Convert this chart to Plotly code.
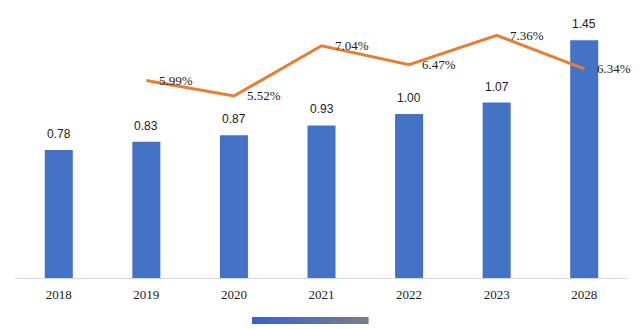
import plotly.graph_objects as go

years = ["2018", "2019", "2020", "2021", "2022", "2023", "2028"]
market_size = [0.78, 0.83, 0.87, 0.93, 1.00, 1.07, 1.45]
growth_pct = [None, 5.99, 5.52, 7.04, 6.47, 7.36, 6.34]

bar_labels = [f"{v:.2f}" for v in market_size]
line_labels = ["" if v is None else f"{v:.2f}%" for v in growth_pct]

fig = go.Figure()
fig.add_trace(go.Bar(
    x=years, y=market_size, marker_color="#4472C4", marker_line_width=0,
    yaxis="y", showlegend=False, hoverinfo="skip",
))
fig.add_trace(go.Scatter(
    x=years, y=growth_pct, mode="lines", line=dict(color="#E67E35", width=3),
    yaxis="y2", showlegend=False, hoverinfo="skip", connectgaps=False,
))

annotations = []
for i, (v, t) in enumerate(zip(market_size, bar_labels)):
    annotations.append(dict(
        x=i, y=v, xref="x", yref="y", text=t, showarrow=False,
        yanchor="middle", yshift=16,
        font=dict(family="Liberation Sans Narrow, Liberation Sans, Arial, sans-serif", size=12, color="#222222"),
    ))
for i, (v, t) in enumerate(zip(growth_pct, line_labels)):
    if v is None:
        continue
    annotations.append(dict(
        x=i, y=v, xref="x", yref="y2", text=t, showarrow=False,
        xanchor="left", yanchor="middle", xshift=11, yshift=0,
        font=dict(family="Liberation Serif, Times New Roman, serif", size=13, color="#222222"),
    ))

# gradient legend swatch at the bottom
shapes = []
x0p, x1p = (252 - 15) / 613, (368 - 15) / 613
y0p, y1p = (278 - 324) / 268, (278 - 317) / 268
n = 24
c0 = (58, 98, 204)
c1 = (118, 126, 138)
for i in range(n):
    f = i / (n - 1)
    col = tuple(int(round(a + (b - a) * f)) for a, b in zip(c0, c1))
    xa = x0p + (x1p - x0p) * i / n
    xb = x0p + (x1p - x0p) * (i + 1) / n + 0.001
    shapes.append(dict(
        type="rect", xref="paper", yref="paper", x0=xa, x1=xb, y0=y0p, y1=y1p,
        fillcolor=f"rgb{col}", line=dict(width=0), layer="above",
    ))

fig.update_layout(
    width=643, height=329,
    margin=dict(l=15, r=15, t=10, b=51),
    paper_bgcolor="white", plot_bgcolor="white",
    bargap=0.68,
    xaxis=dict(
        type="category", range=[-0.5, 6.5], showline=True, linecolor="#d9d9d9", linewidth=1,
        showgrid=False, ticks="outside", ticklen=4, tickcolor="rgba(0,0,0,0)", zeroline=False,
        tickfont=dict(family="Liberation Serif, Times New Roman, serif", size=13, color="#222222"),
    ),
    yaxis=dict(range=[0, 1.634], visible=False, showgrid=False, zeroline=False),
    yaxis2=dict(range=[0, 8.126], overlaying="y", side="right", visible=False,
                showgrid=False, zeroline=False),
    annotations=annotations,
    shapes=shapes,
    showlegend=False,
)

fig.write_html("out.html")
